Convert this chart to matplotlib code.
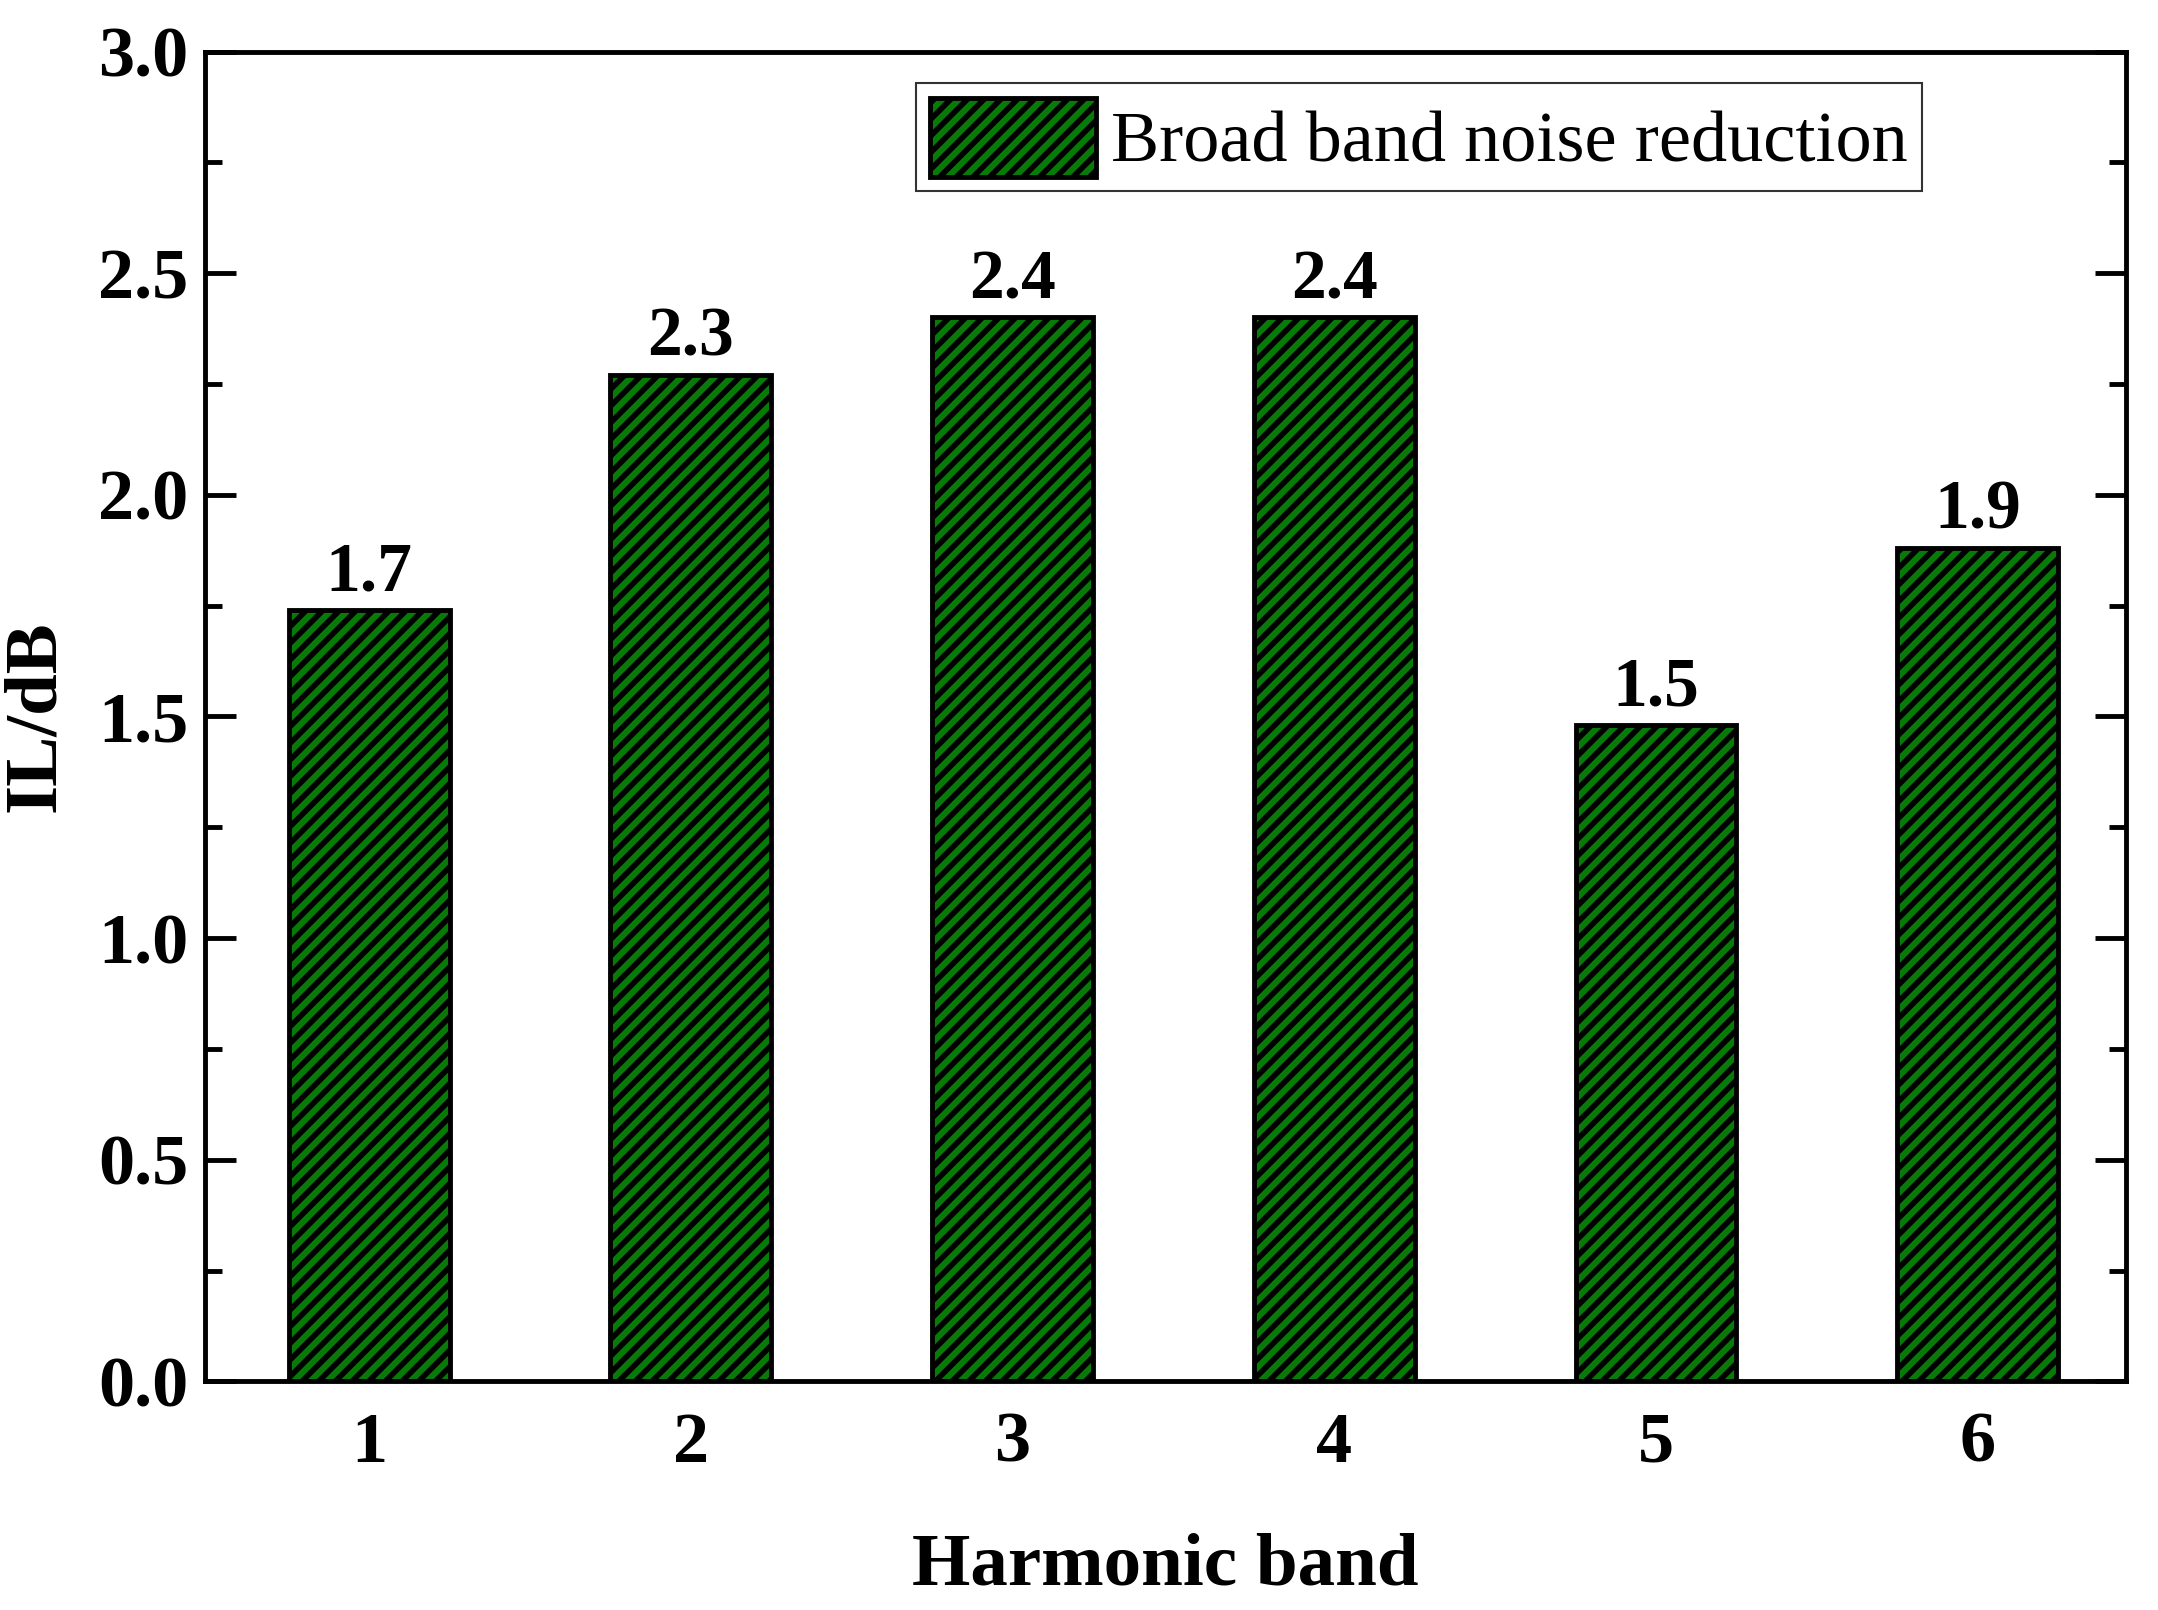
import matplotlib
matplotlib.use('Agg')
import matplotlib.pyplot as plt
from matplotlib.ticker import MultipleLocator

bands = [1, 2, 3, 4, 5, 6]
il_values = [1.74, 2.27, 2.40, 2.40, 1.48, 1.88]
bar_labels = ['1.7', '2.3', '2.4', '2.4', '1.5', '1.9']

plt.rcParams['font.family'] = ['Liberation Serif', 'DejaVu Serif']
plt.rcParams['hatch.linewidth'] = 4

fig = plt.figure(figsize=(21.58, 16.10), dpi=100)
ax = fig.add_axes([0.095, 0.142, 0.89, 0.826])

bars = ax.bar(bands, il_values, width=0.5, color='#087a08', edgecolor='black',
              linewidth=3.5, hatch='//', label='Broad band noise reduction')
for b, lab in zip(bars, bar_labels):
    ax.text(b.get_x() + b.get_width() / 2, b.get_height() + 0.01, lab,
            ha='center', va='bottom', fontsize=50, fontweight='bold')

ax.set_xlim(0.49, 6.46)
ax.set_ylim(0, 3.0)
ax.set_xticks(bands)
ax.yaxis.set_major_locator(MultipleLocator(0.5))
ax.yaxis.set_minor_locator(MultipleLocator(0.25))
ax.tick_params(axis='y', which='both', direction='in', right=True, width=3.5)
ax.tick_params(axis='y', which='major', length=22, labelsize=52, pad=12)
ax.tick_params(axis='y', which='minor', length=12)
ax.tick_params(axis='x', direction='in', length=0, labelsize=52, pad=22)
for lab in ax.get_xticklabels() + ax.get_yticklabels():
    lab.set_fontweight('bold')
for s in ax.spines.values():
    s.set_linewidth(3.5)

ax.set_xlabel('Harmonic band', fontsize=54, fontweight='bold', labelpad=40)
ax.set_ylabel('IL/dB', fontsize=54, fontweight='bold', labelpad=20)

leg = ax.legend(loc='upper right', bbox_to_anchor=(0.894, 0.976), fontsize=52,
                fancybox=False, edgecolor='black', handlelength=2.3,
                handleheight=1.3, borderpad=0.2, handletextpad=0.2,
                borderaxespad=0)
leg.get_frame().set_linewidth(1.5)

fig.savefig('out.png', dpi=100)
